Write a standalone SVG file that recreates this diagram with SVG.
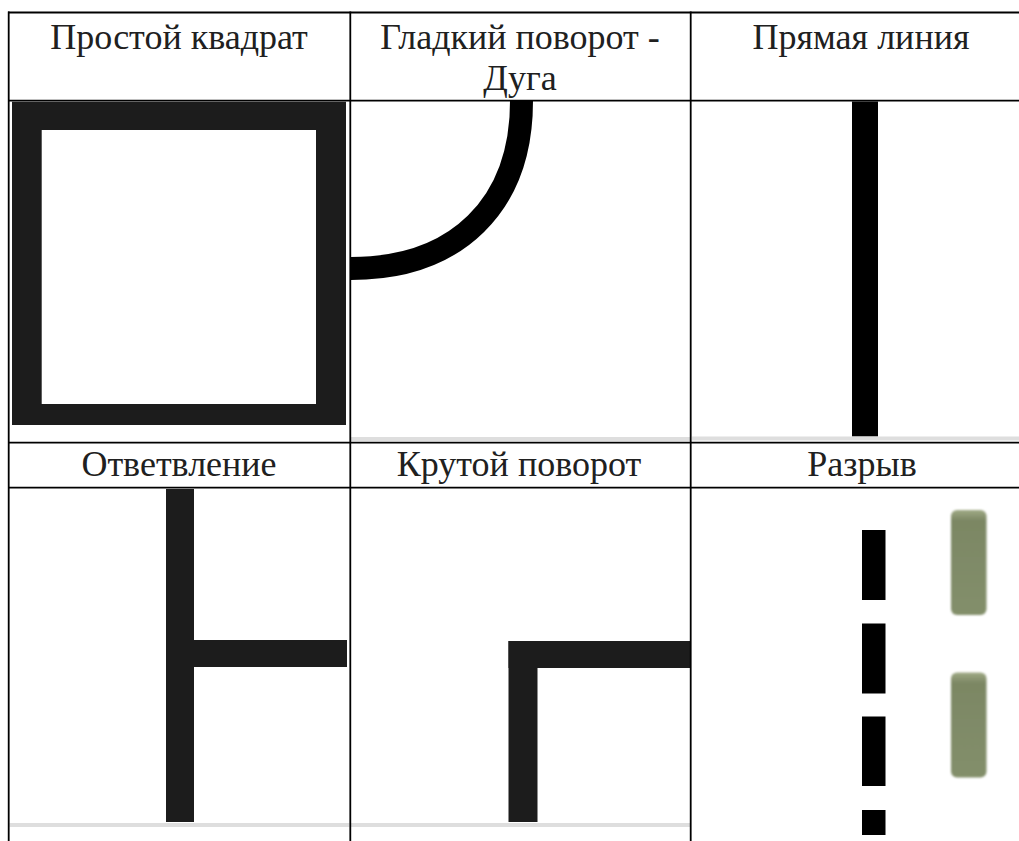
<svg xmlns="http://www.w3.org/2000/svg" width="1019" height="841" viewBox="0 0 1019 841">
  <style>
    .hdr { font-family: "Liberation Serif", "DejaVu Serif", serif; font-size: 36px; fill: #202020; text-anchor: middle; }
    .grid { stroke: #000; stroke-width: 1.8; fill: none; }
    .ink { fill: #1c1c1c; }
    .edge { fill: #dedede; }
  </style>
  <defs>
    <linearGradient id="olive" x1="0" y1="0" x2="0" y2="1">
      <stop offset="0" stop-color="#a0aa86"/>
      <stop offset="0.1" stop-color="#7c8764"/>
      <stop offset="1" stop-color="#838f6b"/>
    </linearGradient>
    <filter id="soft" x="-20%" y="-20%" width="140%" height="140%">
      <feGaussianBlur stdDeviation="1.2"/>
    </filter>
  </defs>
  <rect width="1019" height="841" fill="#fff"/>

  <g id="headers" font-family="'Liberation Serif', 'DejaVu Serif', serif">
    <text class="hdr" x="179" y="48.5">Простой квадрат</text>
    <text class="hdr" x="520" y="48.5">Гладкий поворот -</text>
    <text class="hdr" x="520" y="89.5">Дуга</text>
    <text class="hdr" x="861" y="48.5">Прямая линия</text>
    <text class="hdr" x="179" y="476">Ответвление</text>
    <text class="hdr" x="519" y="476">Крутой поворот</text>
    <text class="hdr" x="862" y="476">Разрыв</text>
  </g>

  <g id="square">
    <path class="ink" fill-rule="evenodd" d="M12 101.7 H346 V425 H12 Z M41.7 130 V404 H316 V130 Z"/>
  </g>

  <g id="arc">
    <path d="M351 268.5 C457 268.5 521.5 205 521.5 101" fill="none" stroke="#000" stroke-width="23"/>
    <rect class="edge" x="351" y="437" width="340" height="4"/>
  </g>

  <g id="straight">
    <rect x="852" y="101.5" width="26" height="335" fill="#000"/>
    <rect class="edge" x="692" y="436.5" width="327" height="4"/>
  </g>

  <g id="branch">
    <rect class="ink" x="166" y="489" width="28" height="333"/>
    <rect class="ink" x="194" y="640" width="153" height="27"/>
    <rect class="edge" x="9.5" y="823" width="340" height="4"/>
  </g>

  <g id="sharp-turn">
    <rect class="ink" x="508.5" y="641" width="29" height="181"/>
    <rect class="ink" x="508.5" y="641" width="182" height="27"/>
    <rect class="edge" x="351" y="823" width="339" height="4"/>
  </g>

  <g id="break">
    <rect x="862" y="530" width="23.5" height="70" fill="#000"/>
    <rect x="862" y="623.5" width="23.5" height="70" fill="#000"/>
    <rect x="862" y="716.5" width="23.5" height="69.5" fill="#000"/>
    <rect x="862" y="810" width="23.5" height="25" fill="#000"/>
    <rect x="951" y="510" width="35.5" height="105" rx="6" fill="url(#olive)" filter="url(#soft)"/>
    <rect x="951" y="672.5" width="35.5" height="105" rx="6" fill="url(#olive)" filter="url(#soft)"/>
  </g>

  <g id="connectors">
    <path class="grid" d="M8 12.5 H1019 M8 100.7 H1019 M8 442.6 H1019 M8 487.6 H1019"/>
    <path class="grid" d="M8.7 11.6 V841 M350.3 11.6 V841 M690.7 11.6 V841"/>
  </g>
</svg>
